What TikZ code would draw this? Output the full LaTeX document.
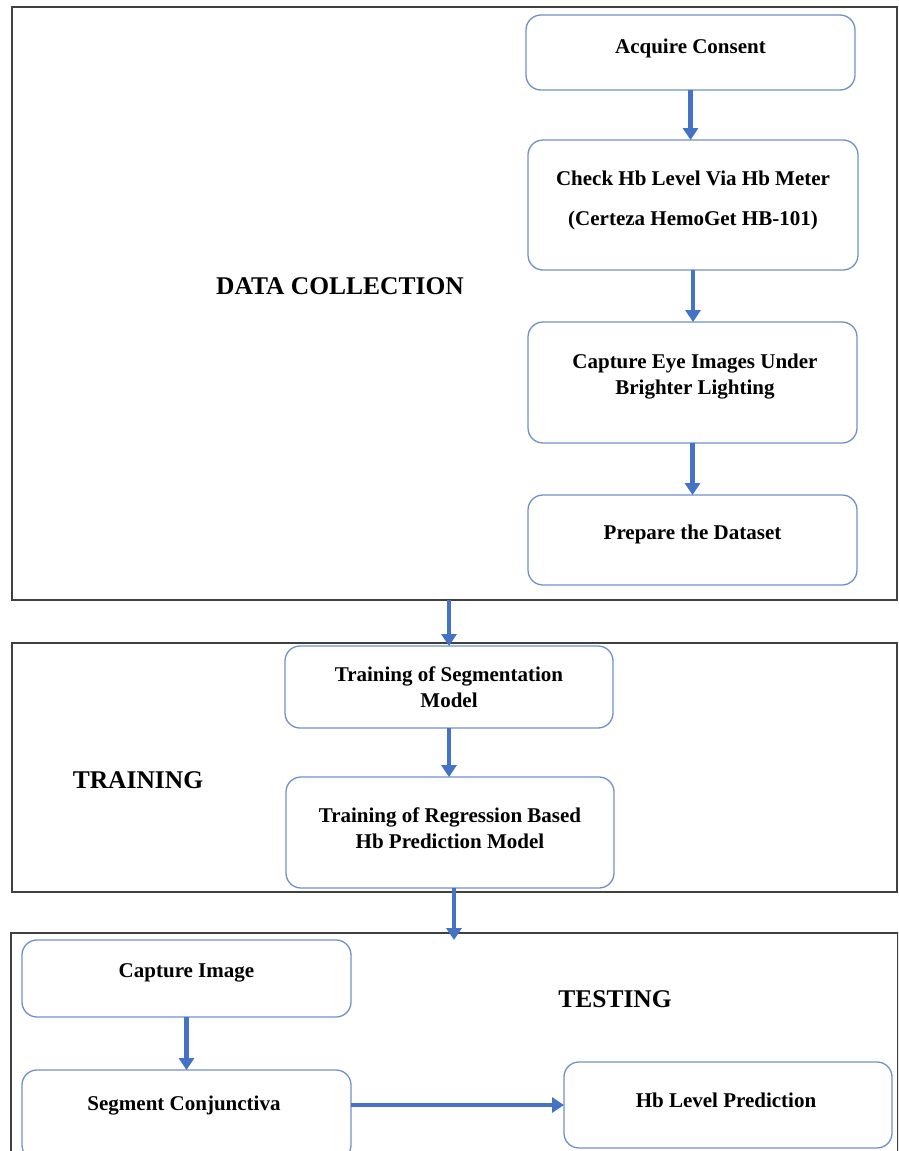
\documentclass[tikz,border=0pt]{standalone}
\usepackage{fontspec}
\setmainfont{Liberation Serif}
\usetikzlibrary{arrows.meta}

\definecolor{framegray}{HTML}{404040}
\definecolor{boxblue}{HTML}{7190C9}
\definecolor{arrowblue}{HTML}{4472C4}

\newcommand{\stepfont}{\bfseries\fontsize{21}{26}\selectfont}
\newcommand{\stagefont}{\bfseries\fontsize{25.5}{29}\selectfont}

\tikzset{
  stage/.style={draw=framegray,line width=2pt,inner sep=0pt,outer sep=0pt},
  stepbox/.style={draw=boxblue,line width=1.3pt,rounded corners=15pt,inner sep=0pt,outer sep=0pt},
  steptext/.style={font=\stepfont,align=center},
  stagetext/.style={font=\stagefont},
  flow/.style={draw=arrowblue,line width=4.5pt,-{Triangle[width=15pt,length=12pt]}}
}

\begin{document}
\begin{tikzpicture}[x=1pt,y=-1pt]
\useasboundingbox (0,0) rectangle (898,1151);
\clip (0,0) rectangle (898,1151);

%the three stages
\node[stage,minimum width=885pt,minimum height=593pt] (nData) at (454.5,303.5){};
\node[stage,minimum width=885pt,minimum height=249pt] (nTrain) at (454.5,767.5){};
\node[stage,minimum width=887pt,minimum height=247pt] (nTest) at (454.5,1056.5){};

\node[stagetext] (tData) at (340,286){DATA COLLECTION};
\node[stagetext] (tTrain) at (138,780){TRAINING};
\node[stagetext] (tTest) at (615,999){TESTING};

%boxes: name/x/y/width/height
\foreach \v/\x/\y/\w/\h in
{nAcq/690.5/52.5/329/75,
    nChk/693/205/330/130,
    nEye/692.5/382.5/329/121,
    nPrep/692.5/540/329/90,
    nSeg/449/687/328/82,
    nReg/450/832.5/328/111,
    nCap/186.5/978.5/329/77,
    nConj/186.5/1115/329/90,
    nHb/728/1105/328/86}
{
    \node[stepbox,minimum width=\w pt,minimum height=\h pt] (\v) at (\x,\y){};
};

\node[steptext] (tAcq) at (690.5,48){Acquire Consent};
\node[steptext] (tChk) at (693,200){Check Hb Level Via Hb Meter\\[14pt](Certeza HemoGet HB-101)};
\node[steptext] (tEye) at (695,377){Capture Eye Images Under\\Brighter Lighting};
\node[steptext] (tPrep) at (692.5,534){Prepare the Dataset};
\node[steptext] (tSeg) at (449,687.5){Training of Segmentation\\Model};
\node[steptext] (tReg) at (450,828){Training of Regression Based\\Hb Prediction Model};
\node[steptext] (tCap) at (186.5,973){Capture Image};
\node[steptext] (tConj) at (184,1106){Segment Conjunctiva};
\node[steptext] (tHb) at (726,1100){Hb Level Prediction};

%arrows
\foreach \a/\b in {nAcq/nChk, nChk/nEye, nEye/nPrep, nSeg/nReg, nCap/nConj}
{
    \draw[flow] (\a.south) -- (\a.south |- \b.north);
};
\draw[flow] (nData.south -| nSeg.north) -- (nSeg.north);
\draw[flow] ([xshift=4pt]nReg.south) -- ([xshift=4pt,yshift=-7pt]nReg.south |- nTest.north);
\draw[flow] (nConj.east |- nHb.west) -- (nHb.west);

\end{tikzpicture}
\end{document}
